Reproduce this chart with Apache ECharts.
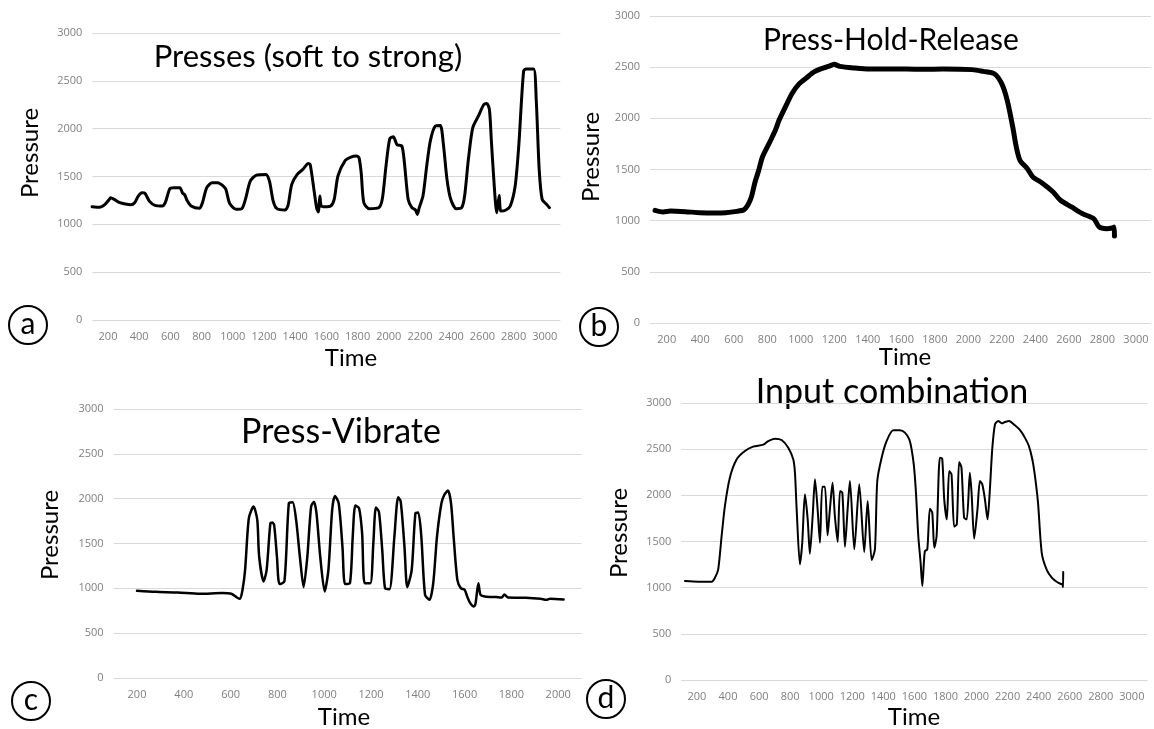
<!DOCTYPE html>
<html><head><meta charset="utf-8">
<script src="https://cdn.jsdelivr.net/npm/echarts@6/dist/echarts.min.js"></script>
<style>html,body{margin:0;padding:0;background:#fff}#c{width:1154px;height:729px}</style>
</head><body><div id="c"></div>
<script>
// ---- Data ----
const titles = ['Presses (soft to strong)', 'Press-Hold-Release', 'Press-Vibrate', 'Input combination'];
const panelLetters = ['a', 'b', 'c', 'd'];
const yTicks = [0, 500, 1000, 1500, 2000, 2500, 3000];
const xLabelMaxA = 3000, xLabelMaxB = 3000, xLabelMaxC = 2000, xLabelMaxD = 3000;

const timeA = [98,145,181,212,217,240,276,311,347,371,394,418,437,465,501,548,567,596,620,660,679,690,709,733,785,804,833,868,904,939,956,980,1022,1058,1081,1112,1152,1212,1235,1259,1283,1335,1354,1378,1413,1449,1484,1496,1520,1537,1548,1558,1567,1591,1627,1650,1674,1721,1757,1792,1809,1823,1840,1875,1935,1958,1982,2006,2029,2053,2084,2100,2124,2148,2171,2183,2195,2219,2243,2266,2297,2330,2349,2373,2396,2432,2467,2486,2510,2538,2574,2609,2628,2645,2657,2676,2692,2708,2718,2751,2779,2810,2833,2864,2881,2928,2945,2964,2983,3011,3030];
const pressureA = [1184,1178,1209,1268,1278,1261,1226,1212,1205,1226,1296,1330,1324,1243,1198,1191,1226,1372,1383,1383,1324,1313,1243,1191,1167,1219,1383,1435,1435,1400,1365,1219,1157,1164,1261,1452,1515,1522,1452,1243,1164,1150,1198,1418,1522,1574,1637,1626,1365,1174,1129,1296,1191,1184,1191,1261,1505,1668,1703,1713,1696,1539,1226,1164,1174,1261,1609,1894,1915,1832,1818,1644,1261,1174,1150,1104,1174,1296,1609,1870,2026,2033,1852,1470,1268,1164,1174,1296,1678,2009,2131,2253,2263,2200,1887,1400,1122,1303,1139,1150,1191,1400,1818,2600,2625,2625,2305,1574,1261,1209,1174];

const timeB = [130,178,222,310,398,485,551,617,661,683,705,727,749,771,815,848,870,903,947,991,1035,1079,1123,1166,1199,1232,1320,1408,1628,1738,1847,2023,2089,2155,2199,2232,2265,2286,2308,2352,2385,2440,2506,2550,2616,2682,2748,2781,2825,2858,2871,2872];
const pressureB = [1101,1085,1094,1088,1078,1075,1078,1091,1107,1150,1231,1378,1492,1622,1769,1883,1981,2094,2241,2339,2397,2453,2485,2508,2528,2508,2492,2482,2482,2479,2482,2476,2459,2436,2339,2176,1915,1720,1590,1508,1427,1368,1280,1199,1134,1068,1020,938,922,928,938,850];

const timeC = [200,279,374,469,564,603,627,640,651,662,678,698,714,722,741,754,770,778,786,798,809,830,849,865,880,896,912,928,944,956,967,983,1002,1018,1034,1046,1062,1078,1089,1110,1122,1133,1149,1162,1173,1197,1210,1221,1234,1248,1260,1279,1300,1316,1327,1343,1355,1374,1390,1402,1415,1431,1450,1466,1482,1501,1513,1529,1542,1553,1569,1584,1600,1611,1624,1640,1647,1659,1668,1687,1735,1759,1770,1786,1862,1925,1949,1965,2023];
const pressureC = [973,961,954,939,947,939,898,883,984,1206,1782,1912,1763,1355,1077,1206,1726,1733,1708,1355,1047,1077,1949,1960,1763,1355,1013,1355,1912,1967,1838,1355,965,1206,1875,2030,1949,1466,1047,1058,1578,1923,1893,1615,1058,1058,1503,1901,1853,1429,1002,991,1578,2016,1967,1466,1013,1206,1838,1845,1578,928,872,1058,1578,1949,2041,2090,1949,1578,1095,1002,984,910,835,798,835,1058,928,910,902,898,932,898,895,883,872,883,876];

const timeD = [123,208,295,316,337,359,380,412,456,509,562,627,659,702,745,788,820,831,842,863,878,895,913,927,945,960,977,992,1007,1024,1041,1056,1073,1088,1106,1121,1136,1153,1170,1185,1213,1245,1277,1299,1325,1346,1361,1389,1421,1464,1507,1539,1567,1582,1597,1610,1625,1640,1651,1661,1668,1683,1700,1715,1728,1743,1764,1779,1792,1809,1824,1839,1856,1873,1888,1903,1920,1937,1957,1968,1985,2006,2022,2037,2054,2071,2086,2101,2119,2140,2162,2183,2209,2247,2279,2311,2337,2359,2376,2396,2420,2452,2487,2523,2554,2557,2558];
const pressureD = [1072,1065,1065,1108,1199,1560,1884,2191,2390,2480,2527,2549,2588,2614,2599,2516,2390,2245,1848,1253,1487,2011,1740,1368,1776,2173,1848,1487,2094,2094,1567,1848,2137,1776,1495,2047,2029,1444,1848,2155,1415,2119,1386,1939,1300,1415,2155,2408,2588,2704,2704,2679,2606,2498,2318,2029,1560,1271,1018,1271,1397,1415,1856,1812,1433,1560,2408,2397,1957,1740,2264,2227,1661,1686,2361,2300,1758,1740,2245,2029,1531,1848,2155,2119,1957,1740,2065,2498,2769,2805,2780,2794,2805,2758,2708,2625,2534,2390,2210,1916,1374,1193,1103,1056,1031,1006,1170];

// ---- Layout ----
const FONT = 'Lato, "Open Sans", sans-serif';
const panels = [
  {t: timeA, p: pressureA, left: 92.4, top: 33, width: 468, height: 287, xmin: 100, xmax: 3100, labMax: xLabelMaxA, lw: 3,
   title: [308, 57], tsize: 31, ylab: [30, 153], xlab: [351, 358], circ: [28, 325]},
  {t: timeB, p: pressureB, left: 650, top: 16, width: 504, height: 307, xmin: 100, xmax: 3090, labMax: xLabelMaxB, lw: 5,
   title: [891, 40], tsize: 30, ylab: [591, 157], xlab: [905, 357], circ: [599, 327]},
  {t: timeC, p: pressureC, left: 113.6, top: 409, width: 468, height: 269, xmin: 100, xmax: 2100, labMax: xLabelMaxC, lw: 2.5,
   title: [341, 432], tsize: 34, ylab: [50, 535], xlab: [344, 717], circ: [31, 701]},
  {t: timeD, p: pressureD, left: 681.4, top: 403, width: 466, height: 277, xmin: 100, xmax: 3100, labMax: xLabelMaxD, lw: 2,
   title: [892, 392], tsize: 34, ylab: [619, 533], xlab: [914, 717], circ: [606, 699]}
];

const grid = [], xAxis = [], yAxis = [], series = [], graphic = [];
panels.forEach((P, i) => {
  grid.push({left: P.left, top: P.top, width: P.width, height: P.height, containLabel: false});
  xAxis.push({
    type: 'value', gridIndex: i, min: P.xmin, max: P.xmax, interval: 100,
    axisLine: {show: false}, axisTick: {show: false}, splitLine: {show: false},
    axisLabel: {
      margin: 11, color: '#7f7f7f', fontSize: 11, fontFamily: '"Open Sans", sans-serif',
      formatter: v => (v % 200 === 0 && v >= 200 && v <= P.labMax) ? String(v) : ''
    }
  });
  yAxis.push({
    type: 'value', gridIndex: i, min: yTicks[0], max: yTicks[yTicks.length - 1], interval: yTicks[1] - yTicks[0],
    axisLine: {show: false}, axisTick: {show: false},
    splitLine: {show: true, lineStyle: {color: '#d9d9d9', width: 1}},
    axisLabel: {margin: 10, color: '#7f7f7f', fontSize: 11, fontFamily: '"Open Sans", sans-serif',
      formatter: v => String(v)}
  });
  series.push({
    type: 'line', xAxisIndex: i, yAxisIndex: i, showSymbol: false, smooth: 0.25,
    lineStyle: {color: '#000', width: P.lw, join: 'round', cap: 'round'},
    data: P.t.map((t, k) => [t, P.p[k]]), animation: false
  });
  graphic.push({type: 'text', x: P.title[0], y: P.title[1],
    style: {text: titles[i], font: P.tsize + 'px ' + FONT, fill: '#000', textAlign: 'center', textVerticalAlign: 'middle'}});
  graphic.push({type: 'text', x: P.ylab[0], y: P.ylab[1], rotation: Math.PI / 2,
    style: {text: 'Pressure', font: '24px ' + FONT, fill: '#000', textAlign: 'center', textVerticalAlign: 'middle'}});
  graphic.push({type: 'text', x: P.xlab[0], y: P.xlab[1],
    style: {text: 'Time', font: '24px ' + FONT, fill: '#000', textAlign: 'center', textVerticalAlign: 'middle'}});
  graphic.push({type: 'circle', shape: {cx: P.circ[0], cy: P.circ[1], r: 19},
    style: {fill: 'none', stroke: '#000', lineWidth: 2}});
  graphic.push({type: 'text', x: P.circ[0], y: P.circ[1] - 1,
    style: {text: panelLetters[i], font: '30px ' + FONT, fill: '#000', textAlign: 'center', textVerticalAlign: 'middle'}});
});

const chart = echarts.init(document.getElementById('c'), null, {renderer: 'canvas'});
chart.setOption({animation: false, backgroundColor: '#fff', grid, xAxis, yAxis, series, graphic});
</script></body></html>
